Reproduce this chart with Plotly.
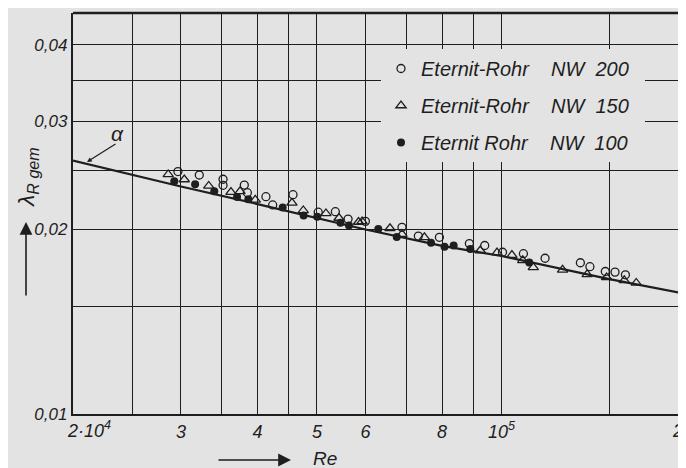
import math
import plotly.graph_objects as go

# ---- data ----
re_nw200 = [29660, 32140, 35140, 35140, 38060, 38500, 41280, 42340, 45700, 50240,
            53580, 56200, 59980, 68820, 73180, 79200, 88640, 93900, 100400, 108600,
            117800, 134500, 139400, 147700, 153200, 159300]
lam_nw200 = [0.02486, 0.02454, 0.02415, 0.02361, 0.02363, 0.02296, 0.02262, 0.02193, 0.02279, 0.02134,
             0.02138, 0.02080, 0.02062, 0.02016, 0.01951, 0.01942, 0.01897, 0.01883, 0.01836, 0.01826,
             0.01795, 0.01765, 0.01739, 0.01708, 0.01704, 0.01687]

re_nw150 = [28600, 30380, 33300, 36200, 37460, 39660, 45520, 47500, 51720, 54320,
            58460, 59240, 65780, 68820, 74880, 92340, 98340, 104000, 108300, 112700,
            125800, 138000, 148400, 158600, 165900]
lam_nw150 = [0.02459, 0.02413, 0.02355, 0.02302, 0.02308, 0.02235, 0.02210, 0.02148, 0.02124, 0.02088,
             0.02057, 0.02061, 0.02009, 0.01966, 0.01942, 0.01848, 0.01833, 0.01816, 0.01781, 0.01735,
             0.01718, 0.01690, 0.01670, 0.01652, 0.01636]

re_nw100 = [29260, 31640, 34000, 37040, 38640, 43960, 47560, 50060, 54620, 56400,
            62960, 67480, 76740, 80740, 83560, 88960, 111000]
lam_nw100 = [0.02398, 0.02370, 0.02309, 0.02259, 0.02240, 0.02173, 0.02108, 0.02098, 0.02051, 0.02030,
             0.02004, 0.01944, 0.01903, 0.01874, 0.01883, 0.01858, 0.01767]

# curve a (smooth-pipe law), read at grid positions
re_curve = [20000, 30000, 40000, 50000, 60000, 80000, 100000, 150000, 200000]
lam_curve = [0.0259, 0.0235, 0.0220, 0.0209, 0.0200, 0.0188, 0.0181, 0.0166, 0.0157]

legend_names = ["Eternit-Rohr\u00a0\u00a0\u00a0\u00a0NW\u00a0\u00a0200\u00a0\u00a0",
                "Eternit-Rohr\u00a0\u00a0\u00a0\u00a0NW\u00a0\u00a0150\u00a0\u00a0",
                "Eternit\u00a0Rohr\u00a0\u00a0\u00a0\u00a0NW\u00a0\u00a0100\u00a0\u00a0"]

x_tickvals = [20000, 25000, 30000, 35000, 40000, 45000, 50000, 60000, 70000, 80000,
              90000, 100000, 150000, 200000]
x_ticktext = ["", "", "3", "", "4", "", "5", "6", "", "8", "", "10<sup>5</sup>", "", ""]
y_tickvals = [0.01, 0.015, 0.02, 0.025, 0.03, 0.035, 0.04]
y_ticktext = ["0,01", "", "0,02", "", "0,03", "", "0,04"]

BG = "#e3e3e3"
INK = "#1e1e1e"
FONT = "Liberation Sans"

fig = go.Figure()
fig.add_trace(go.Scatter(x=re_curve, y=lam_curve, mode="lines",
                         line=dict(color=INK, width=2.2), showlegend=False, hoverinfo="skip"))
fig.add_trace(go.Scatter(x=re_nw200, y=lam_nw200, mode="markers", name=legend_names[0],
                         legendgroup="a",
                         marker=dict(symbol="circle-open", size=8, color=INK, line=dict(width=1.3))))
fig.add_trace(go.Scatter(x=re_nw150, y=lam_nw150, mode="markers", name=legend_names[1],
                         legendgroup="b",
                         marker=dict(symbol="triangle-up-open", size=9, color=INK, line=dict(width=1.3))))
fig.add_trace(go.Scatter(x=re_nw100, y=lam_nw100, mode="markers", name=legend_names[2],
                         legendgroup="c",
                         marker=dict(symbol="circle", size=8, color=INK)))

W, H = 686, 468
OFF = 8  # page body margin in the browser
# target plot area in window pixels: x 73..686, y 13..414
L, T = 73 - OFF, 13 - OFF
pw, ph = 613, 401
R = W - L - pw
B = H - T - ph


def px(x):
    return (x - 73) / pw


def py(y):
    return (414 - y) / ph


def label(text, x, y, size, **kw):
    return dict(text=text, xref="paper", yref="paper", x=px(x), y=py(y),
                xanchor="center", yanchor="middle", showarrow=False,
                font=dict(size=size, style="italic", color=INK, family=FONT), **kw)


def arrow(x_head, y_head, dx, dy, size, width):
    return dict(text="", xref="paper", yref="paper", x=px(x_head), y=py(y_head),
                ax=dx, ay=dy, showarrow=True, arrowhead=2, arrowsize=size,
                arrowwidth=width, arrowcolor=INK)


fig.update_layout(
    width=W, height=H,
    margin=dict(l=L, r=R, t=T, b=B, autoexpand=False),
    paper_bgcolor=BG, plot_bgcolor=BG,
    font=dict(family=FONT, color=INK),
    xaxis=dict(type="log", range=[math.log10(20000), math.log10(20000) + 1.0],
               tickvals=x_tickvals, ticktext=x_ticktext, automargin=False,
               tickfont=dict(size=18, style="italic", color=INK),
               showgrid=True, gridcolor=INK, gridwidth=1.3,
               showline=True, linecolor=INK, linewidth=2.4, ticks="", zeroline=False),
    yaxis=dict(type="log", range=[-2, -2 + 401 / 613],
               tickvals=y_tickvals, ticktext=y_ticktext, automargin=False,
               tickfont=dict(size=17, style="italic", color=INK),
               showgrid=True, gridcolor=INK, gridwidth=1.3,
               showline=True, linecolor=INK, linewidth=2.4, ticks="", zeroline=False),
    showlegend=True,
    legend=dict(x=px(381), y=py(49), xanchor="left", yanchor="top",
                bgcolor=BG, borderwidth=0, tracegroupgap=8,
                font=dict(size=20, style="italic", family=FONT, color=INK)),
    shapes=[dict(type="line", xref="paper", yref="paper", x0=0, x1=1, y0=1, y1=1,
                 line=dict(color=INK, width=2.4))],
    annotations=[
        label("2·10<sup>4</sup>", 89, 429, 18),
        label("2", 677, 431, 18),
        label("α", 117, 134, 21),
        arrow(87, 162, 30, -19, 0.8, 1.2),
        label("λ<sub>R gem</sub>", 27, 178, 23, textangle=-90),
        arrow(26, 222, 0, 75, 1.6, 1.6),
        arrow(291, 460, -74, 0, 1.6, 1.6),
        label("Re", 325, 458, 19),
    ],
)

fig.write_html("out.html")
